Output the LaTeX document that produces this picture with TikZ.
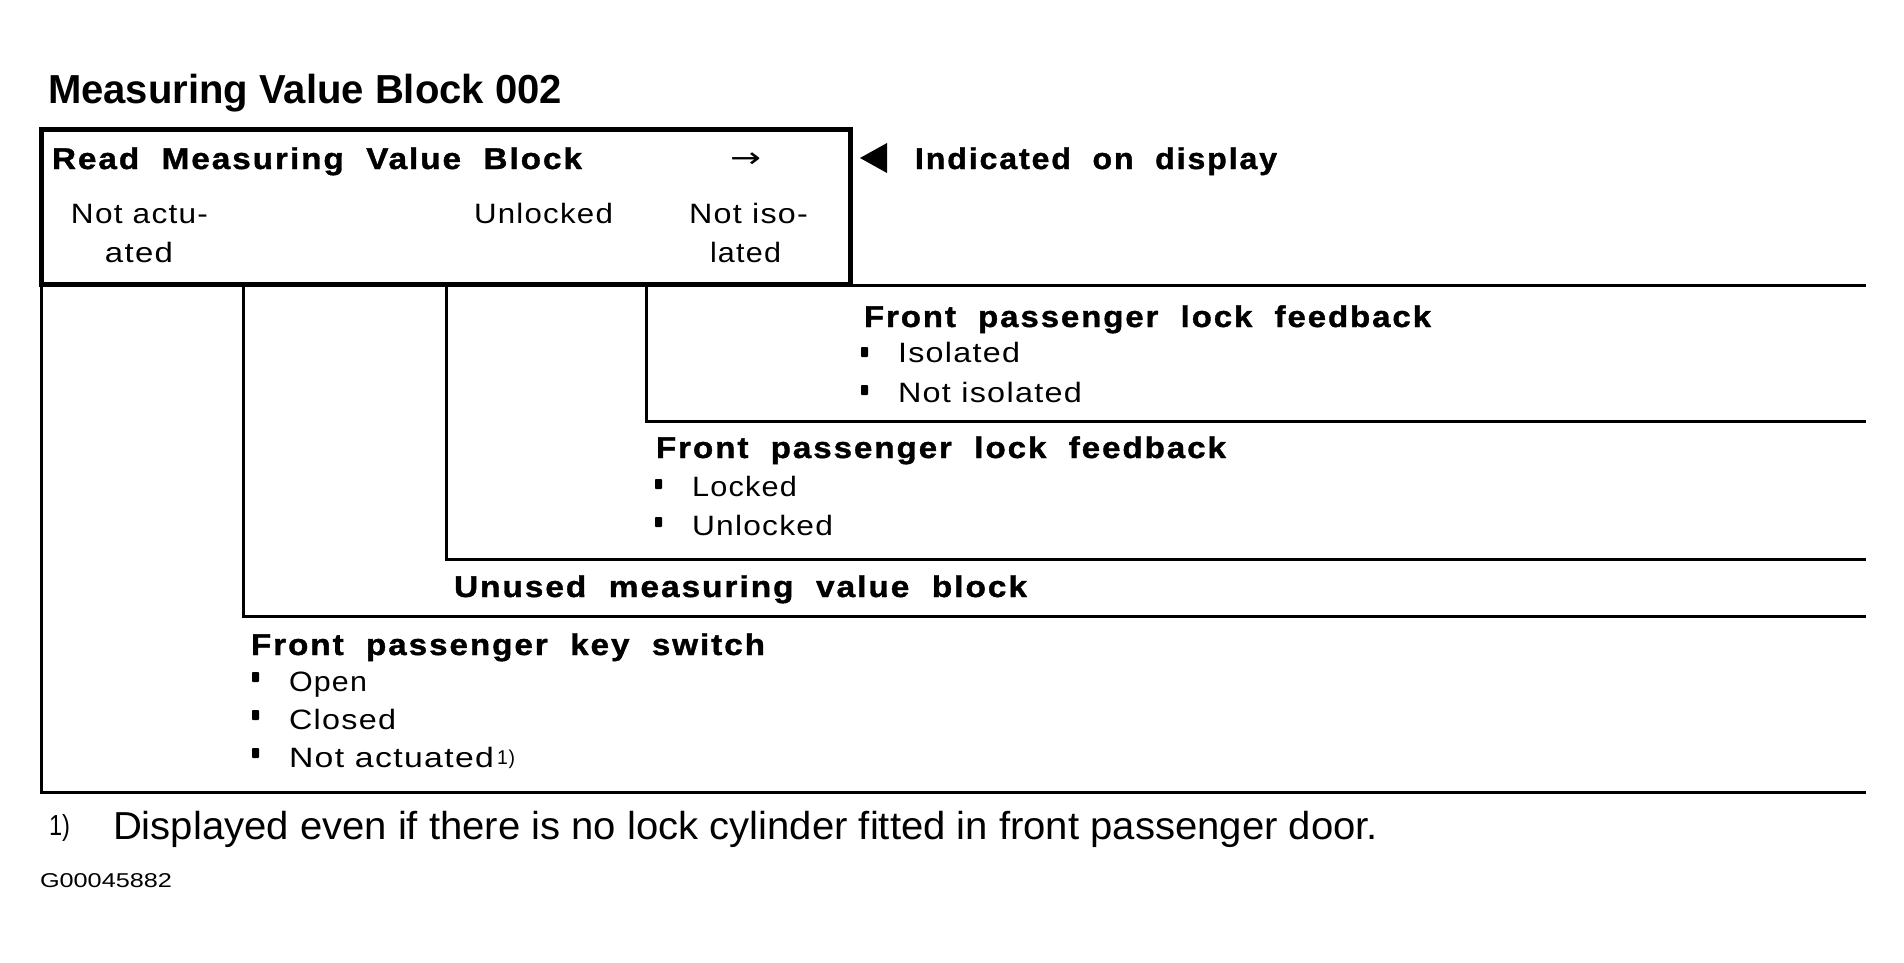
\documentclass[tikz,border=0pt]{standalone}
\usepackage{fontspec}
\usepackage{graphicx}
\setmainfont{Liberation Sans}
\newfontfamily\hdfont[LetterSpace=6,WordSpace=2,FakeBold=1.2]{Liberation Sans}
\newfontfamily\txfont[LetterSpace=4]{Liberation Sans}
\newfontfamily\symfont{DejaVu Sans}
\newcommand\fitw[2]{\resizebox{#1bp}{\height}{#2}}
\tikzset{
  tx/.style={anchor=base west, inner sep=0pt, outer sep=0pt},
  txc/.style={anchor=base, inner sep=0pt, outer sep=0pt},
  ttl/.style={tx, font=\bfseries\fontsize{40.5bp}{48bp}\selectfont},
  hd/.style={tx, font=\hdfont\bfseries\fontsize{30bp}{36bp}\selectfont},
  rg/.style={tx, font=\txfont\fontsize{28bp}{34bp}\selectfont},
  rgc/.style={txc, font=\txfont\fontsize{28bp}{34bp}\selectfont},
  foot/.style={tx, font=\fontsize{39bp}{46bp}\selectfont},
  rule/.style={line width=3bp},
  frame/.style={line width=5bp},
  bul/.style={fill=black, rounded corners=0.8bp}
}
\begin{document}
\begin{tikzpicture}[x=1bp, y=-1bp]
\useasboundingbox[fill=white] (0,0) rectangle (1904,962);
% title
\node[ttl] (title) at (48,103) {\fitw{514}{Measuring Value Block 002}};
% frame and rules
\draw[frame] (41.5,129.5) rectangle (850.5,284.5);
\draw[rule] (850.5,285.5) -- (1866,285.5);
\draw[rule] (41.5,284.5) -- (41.5,792) -- (1866,792);
\draw[rule] (243,284.5) -- (243,616) -- (1866,616);
\draw[rule] (446,284.5) -- (446,559) -- (1866,559);
\draw[rule] (646,284.5) -- (646,421) -- (1866,421);
% box content
\node[hd] (rmvb) at (52,169) {\fitw{530}{Read Measuring Value Block}};
\node[tx, font=\symfont\fontsize{28bp}{34bp}\selectfont] (arr) at (730,167) {\fitw{31}{→}};
\node[rgc] (na1) at (139.5,223) {\fitw{137}{Not actu-}};
\node[rgc] (na2) at (139,262) {\fitw{68}{ated}};
\node[rg] (unl) at (474,223) {\fitw{139}{Unlocked}};
\node[rgc] (ni1) at (748.5,223) {\fitw{119}{Not iso-}};
\node[rgc] (ni2) at (745.5,262) {\fitw{71}{lated}};
% indicated on display
\fill (860,158) -- (887,143) -- (887,173) -- cycle;
\node[hd] (ind) at (915,169) {\fitw{362}{Indicated on display}};
% region 1
\node[hd] (r1h) at (864,327) {\fitw{567}{Front passenger lock feedback}};
\fill[bul] (861,347) rectangle (868,357);
\node[rg] (r1a) at (898,362) {\fitw{122}{Isolated}};
\fill[bul] (861,385) rectangle (868,395);
\node[rg] (r1b) at (898,402) {\fitw{184}{Not isolated}};
% region 2
\node[hd] (r2h) at (656,458) {\fitw{570}{Front passenger lock feedback}};
\fill[bul] (655,479) rectangle (662,489);
\node[rg] (r2a) at (692,496) {\fitw{105}{Locked}};
\fill[bul] (655,517) rectangle (662,527);
\node[rg] (r2b) at (692,535) {\fitw{141}{Unlocked}};
% region 3
\node[hd] (r3h) at (454,597) {\fitw{573}{Unused measuring value block}};
% region 4
\node[hd] (r4h) at (251,655) {\fitw{514}{Front passenger key switch}};
\fill[bul] (252,672) rectangle (259,682);
\node[rg] (r4a) at (289,691) {\fitw{78}{Open}};
\fill[bul] (252,710) rectangle (259,720);
\node[rg] (r4b) at (289,729) {\fitw{107}{Closed}};
\fill[bul] (252,748) rectangle (259,758);
\node[rg] (r4c) at (289,767) {\fitw{205}{Not actuated}};
\node[tx, font=\txfont\fontsize{20bp}{24bp}\selectfont] (r4n) at (497,764) {\fitw{18}{1)}};
% footnote
\node[tx, font=\fontsize{29bp}{34bp}\selectfont] (fn1) at (49,835) {\fitw{21}{1)}};
\node[foot] (fn) at (113,839) {\fitw{1265}{Displayed even if there is no lock cylinder fitted in front passenger door.}};
\node[tx, font=\fontsize{20bp}{24bp}\selectfont] (gid) at (40,887) {\fitw{132}{G00045882}};
\end{tikzpicture}
\end{document}
